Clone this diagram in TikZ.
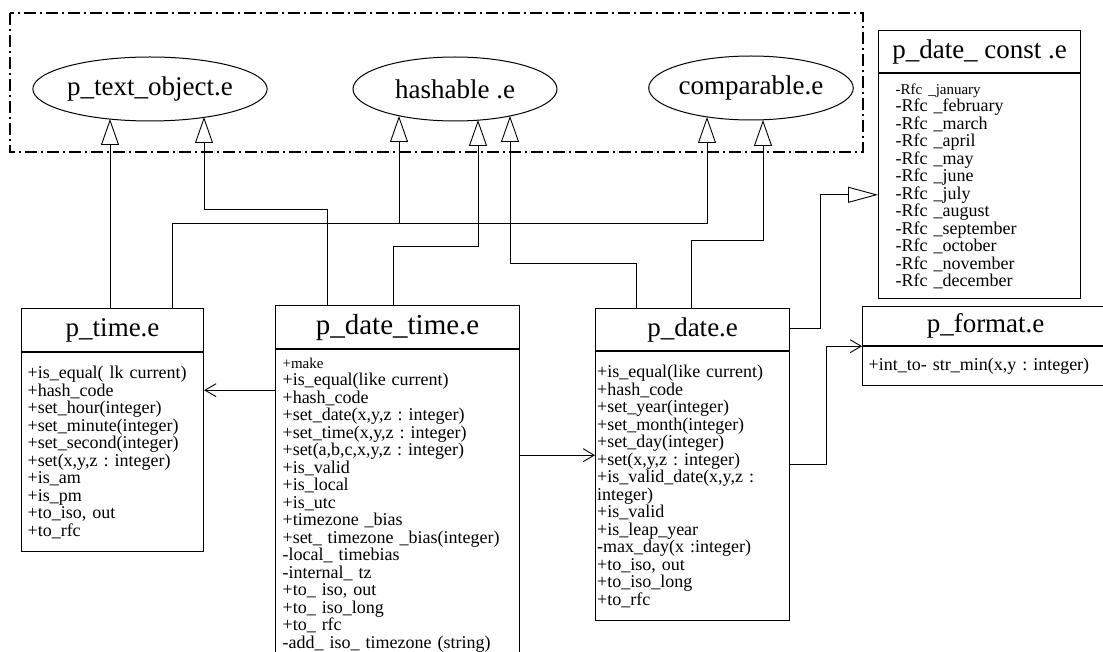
\documentclass[tikz,border=0pt]{standalone}
\usepackage{fontspec}
\setmainfont{Liberation Serif}
\usetikzlibrary{arrows.meta,shapes.geometric}
\frenchspacing

\begin{document}
\begin{tikzpicture}[x=1pt,y=-1pt,
    head/.style={draw,line width=1.2pt,anchor=north west,inner sep=0pt,
      minimum height=43pt,font=\fontsize{27}{27}\selectfont},
    body/.style={draw,line width=1.2pt,anchor=north west,inner ysep=0pt,
      align=left,font=\fontsize{18}{17.5}\selectfont},
    iface/.style={draw,ellipse,line width=1pt,inner sep=0pt,
      minimum height=64pt,font=\fontsize{27}{27}\selectfont},
    frame/.style={line width=1.5pt,dash pattern=on 12pt off 4pt on 2pt off 4pt},
    inherit/.style={line width=0.9pt,-{Triangle[open,length=26pt,width=18pt]}},
    uses/.style={line width=0.9pt,-{Straight Barb[length=11pt,width=13pt]}}]
  \useasboundingbox (0,0) rectangle (1103,652);
  \fill[white] (0,0) rectangle (1103,652);
  \clip (0,0) rectangle (1103,652);

  %% cluster
  \draw[frame] (10,13) rectangle (863,152);
  \node[iface,minimum width=226pt] (tobj) at (150,89) {p\_text\_object.e};
  \node[iface,minimum width=204pt] (hash) at (455,89) {hashable .e};
  \node[iface,minimum width=204pt] (comp) at (751,88) {comparable.e};

  %% tips on the ellipses
  \coordinate (tobjA) at (110,119);
  \coordinate (tobjB) at (204,117);
  \coordinate (hashA) at (399,116);
  \coordinate (hashB) at (478,120);
  \coordinate (hashC) at (510,116);
  \coordinate (compA) at (707,117);
  \coordinate (compB) at (763,120);

  %% classes
  \node[head,minimum width=182pt] (time) at (21,308) {p\_time.e};
  \node[body,inner xsep=6pt,text width=170pt,minimum height=199pt] (timebody) at (time.south west)
    {+is\_equal( lk current)\\+hash\_code\\+set\_hour(integer)\\+set\_minute(integer)\\
     +set\_second(integer)\\+set(x,y,z : integer)\\+is\_am\\+is\_pm\\+to\_iso, out\\+to\_rfc};

  \node[head,minimum width=244pt,font=\fontsize{29}{29}\selectfont] (dtime) at (275,305) {p\_date\_time.e};
  \node[body,inner xsep=7pt,text width=230pt,minimum height=310pt] (dtimebody) at (dtime.south west)
    {{\fontsize{15}{17.5}\selectfont +make}\\+is\_equal(like current)\\+hash\_code\\
     +set\_date(x,y,z : integer)\\+set\_time(x,y,z : integer)\\+set(a,b,c,x,y,z : integer)\\
     +is\_valid\\+is\_local\\+is\_utc\\+timezone \_bias\\+set\_ timezone \_bias(integer)\\
     -local\_ timebias\\-internal\_ tz\\+to\_ iso, out\\+to\_ iso\_long\\+to\_ rfc\\
     -add\_ iso\_ timezone (string)};

  \node[head,minimum width=194pt,minimum height=42pt] (date) at (595,308) {p\_date.e};
  \node[body,inner xsep=1.5pt,text width=191pt,minimum height=269pt] (datebody) at (date.south west)
    {+is\_equal(like current)\\+hash\_code\\+set\_year(integer)\\+set\_month(integer)\\
     +set\_day(integer)\\+set(x,y,z : integer)\\+is\_valid\_date(x,y,z :\\integer)\\
     +is\_valid\\+is\_leap\_year\\-max\_day(x :integer)\\+to\_iso, out\\+to\_iso\_long\\+to\_rfc};

  \node[head,minimum width=202pt,minimum height=42pt] (const) at (878,30) {p\_date\_ const .e};
  \node[body,inner xsep=17pt,text width=168pt,minimum height=225pt] (constbody) at (const.south west)
    {{\fontsize{15}{17.5}\selectfont -Rfc \_january}\\-Rfc \_february\\-Rfc \_march\\
     -Rfc \_april\\-Rfc \_may\\-Rfc \_june\\-Rfc \_july\\-Rfc \_august\\-Rfc \_september\\
     -Rfc \_october\\-Rfc \_november\\-Rfc \_december};

  \node[head,minimum width=246pt,minimum height=39pt] (format) at (862,306) {p\_format.e};
  \node[body,inner xsep=6pt,text width=234pt,minimum height=39pt] (formatbody) at (format.south west)
    {+int\_to- str\_min(x,y : integer)};

  %% inheritance
  \draw[inherit] (time.north -| tobjA) -- (tobjA);
  \draw[inherit] ([xshift=52pt]dtime.north west) -- ++(0,-96) -| (tobjB);
  \draw[inherit] ([xshift=151pt]time.north west) -- ++(0,-85) -| (hashA);
  \draw[inherit] ([xshift=151pt]time.north west) -- ++(0,-85) -| (compA);
  \draw[inherit] ([xshift=118pt]dtime.north west) -- ++(0,-59) -| (hashB);
  \draw[inherit] ([xshift=41pt]date.north west) -- ++(0,-45) -| (hashC);
  \draw[inherit] ([xshift=96pt]date.north west) -- ++(0,-68) -| (compB);
  \draw[line width=0.9pt,-{Triangle[open,length=30pt,width=16pt]}]
    ([yshift=-20pt]date.north east) -- ++(30,0) |- ([yshift=-8.5pt]constbody.west);

  %% uses
  \coordinate (dtL) at ([yshift=-41pt]dtimebody.north west);
  \coordinate (dtR) at ([yshift=-106pt]dtimebody.north east);
  \coordinate (dR) at ([yshift=-113pt]datebody.north east);
  \draw[uses] (dtL) -- (dtL -| timebody.east);
  \draw[uses] (dtR) -- (dtR -| datebody.west);
  \draw[uses] (dR) -- ++(36,0) |- (format.south west);
\end{tikzpicture}
\end{document}
